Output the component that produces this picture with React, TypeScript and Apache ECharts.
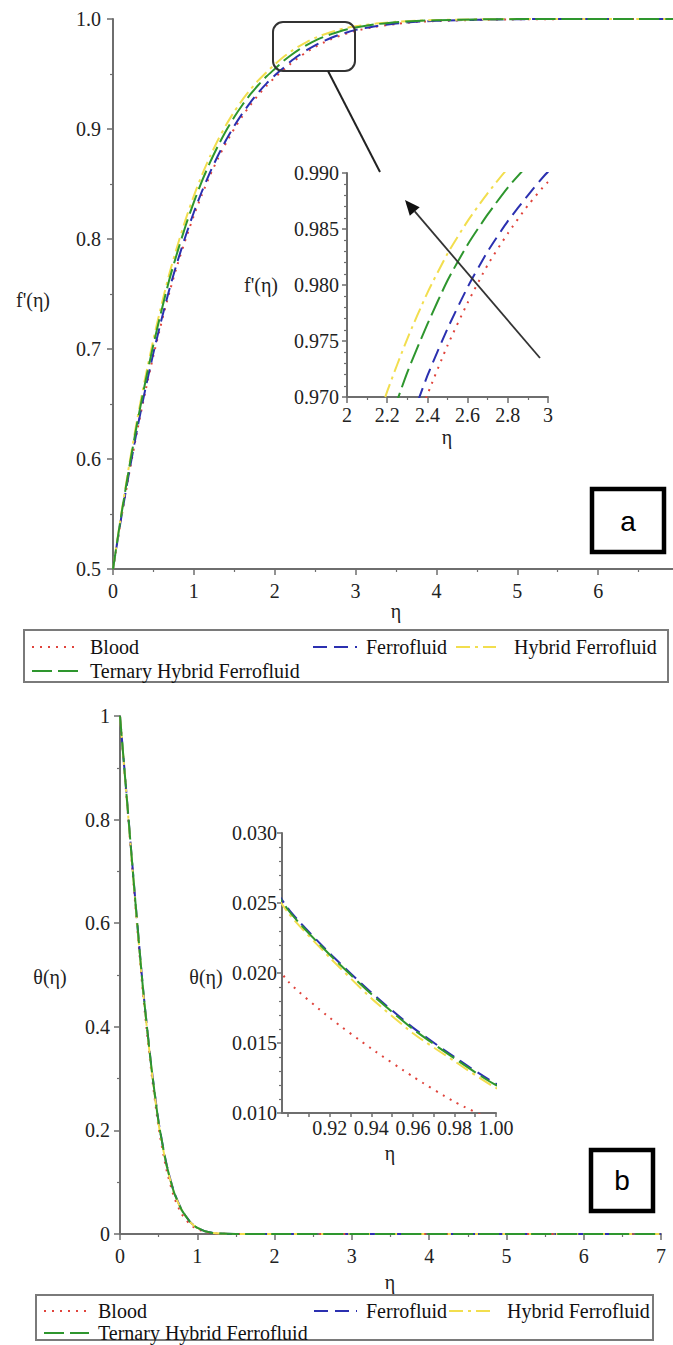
import React, { useEffect, useRef } from "react";
import * as echarts from "echarts";

// ---------- Panel (a): f'(η) ----------
const etaA = [
  0, 0.1, 0.2, 0.3, 0.4, 0.5, 0.6, 0.7, 0.8, 0.9, 1.0, 1.1, 1.2, 1.3, 1.4, 1.5, 1.6, 1.7, 1.8, 1.9, 2.0,
  2.1, 2.2, 2.3, 2.4, 2.5, 2.6, 2.7, 2.8, 2.9, 3.0, 3.25, 3.5, 3.75, 4, 4.5, 5, 5.5, 6, 6.5, 7,
];
const bloodA = [
  0.5, 0.5452, 0.5869, 0.6259, 0.6614, 0.6941, 0.7242, 0.7522, 0.7774, 0.8002, 0.8213, 0.8404, 0.8578,
  0.8734, 0.8875, 0.9003, 0.9117, 0.9219, 0.9312, 0.9393, 0.9467, 0.9531, 0.9595, 0.9652, 0.9702, 0.9746,
  0.9784, 0.9818, 0.9846, 0.9871, 0.9892, 0.993, 0.9955, 0.9973, 0.9982, 0.9992, 0.9997, 0.9999, 1, 1, 1,
];
const ferroA = [
  0.5, 0.5459, 0.5881, 0.6276, 0.6635, 0.6965, 0.7268, 0.7551, 0.7802, 0.8032, 0.8243, 0.8434, 0.8606,
  0.8761, 0.8902, 0.9028, 0.9141, 0.9243, 0.9334, 0.9415, 0.9487, 0.9551, 0.9616, 0.967, 0.9719, 0.9761,
  0.9798, 0.983, 0.9857, 0.988, 0.9901, 0.9935, 0.9959, 0.9975, 0.9983, 0.9993, 0.9998, 1, 1, 1, 1,
];
const hybridA = [
  0.5, 0.549, 0.5945, 0.6363, 0.6741, 0.7087, 0.7402, 0.7693, 0.7946, 0.8182, 0.8392, 0.8582, 0.8751,
  0.8903, 0.9038, 0.9158, 0.9265, 0.936, 0.9444, 0.9517, 0.9587, 0.965, 0.9705, 0.9752, 0.9793, 0.9828,
  0.9857, 0.9882, 0.9904, 0.9921, 0.9934, 0.9958, 0.9975, 0.9985, 0.9991, 0.9997, 1, 1, 1, 1, 1,
];
const ternaryA = [
  0.5, 0.548, 0.592, 0.633, 0.67, 0.704, 0.735, 0.764, 0.789, 0.8125, 0.8335, 0.8526, 0.8696, 0.8849,
  0.8987, 0.9109, 0.9218, 0.9316, 0.9402, 0.9479, 0.9546, 0.9614, 0.9671, 0.9722, 0.9765, 0.9804, 0.9836,
  0.9863, 0.9887, 0.9907, 0.9923, 0.9952, 0.9971, 0.9982, 0.9989, 0.9996, 0.9999, 1, 1, 1, 1,
];

// ---------- Panel (b): θ(η) ----------
const etaB = [
  0, 0.1, 0.2, 0.3, 0.4, 0.5, 0.6, 0.7, 0.8, 0.9, 0.92, 0.94, 0.96, 0.98, 1.0, 1.1, 1.2, 1.3, 1.5, 2, 3, 4,
  5, 6, 7,
];
const bloodB = [
  1, 0.815, 0.632, 0.46, 0.32, 0.205, 0.125, 0.071, 0.038, 0.0194, 0.0168, 0.0146, 0.0126, 0.0108, 0.0094,
  0.004, 0.0015, 0.0005, 0.0001, 0, 0, 0, 0, 0, 0,
];
const ferroB = [
  1, 0.821, 0.641, 0.471, 0.331, 0.216, 0.136, 0.0805, 0.0462, 0.0246, 0.0214, 0.0186, 0.0161, 0.014,
  0.0121, 0.0053, 0.0021, 0.0008, 0.0001, 0, 0, 0, 0, 0, 0,
];
const hybridB = [
  1, 0.818, 0.637, 0.467, 0.327, 0.212, 0.133, 0.079, 0.0455, 0.0243, 0.0211, 0.0182, 0.0157, 0.0137,
  0.0118, 0.0051, 0.002, 0.0008, 0.0001, 0, 0, 0, 0, 0, 0,
];
const ternaryB = [
  1, 0.82, 0.64, 0.47, 0.33, 0.215, 0.135, 0.08, 0.046, 0.0245, 0.0213, 0.0185, 0.016, 0.0139, 0.012,
  0.0052, 0.0021, 0.0008, 0.0001, 0, 0, 0, 0, 0, 0,
];

const seriesNames = ["Blood", "Ferrofluid", "Hybrid Ferrofluid", "Ternary Hybrid Ferrofluid"];
const insetBTicks = [0.9, 0.91, 0.92, 0.93, 0.94, 0.95, 0.96, 0.97, 0.98, 0.99, 1.0];
const insetBLabels = [0.92, 0.94, 0.96, 0.98, 1.0];

const SERIF = "Liberation Serif";
const SANS = "Liberation Sans";
const AXIS = "#6e6e6e";

const styles: Record<string, { color: string; type: number[] }> = {
  Blood: { color: "#e0443c", type: [2, 6] },
  Ferrofluid: { color: "#2b30b0", type: [14, 7] },
  "Hybrid Ferrofluid": { color: "#f2de4e", type: [14, 5, 3, 5] },
  "Ternary Hybrid Ferrofluid": { color: "#2e962e", type: [20, 6] },
};

function mkSeries(name: string, xs: number[], ys: number[], axisIndex: number) {
  const st = styles[name];
  return {
    type: "line",
    name,
    xAxisIndex: axisIndex,
    yAxisIndex: axisIndex,
    data: xs.map((x, i) => [x, ys[i]]),
    symbol: "none",
    showSymbol: false,
    smooth: 0.2,
    clip: true,
    silent: true,
    lineStyle: { color: st.color, width: 2, type: st.type },
    itemStyle: { color: st.color },
  };
}

function axisBase(fontSize: number, margin: number, minorSplit: number | null, tickLen = 6) {
  return {
    axisLine: { show: true, onZero: false, lineStyle: { color: AXIS, width: 2 } },
    axisTick: { show: true, inside: false, length: tickLen, lineStyle: { color: AXIS, width: 1.5 } },
    minorTick: {
      show: minorSplit !== null,
      splitNumber: minorSplit ?? 2,
      length: 3,
      lineStyle: { color: AXIS, width: 1.2 },
    },
    splitLine: { show: false },
    minorSplitLine: { show: false },
    axisLabel: { color: "#222", fontFamily: SERIF, fontSize, margin },
  };
}

const round = (v: number, d: number) => Math.round(v * Math.pow(10, d)) / Math.pow(10, d);

function legendBlock(
  names: string[],
  left: number,
  top: number,
  itemWidth: number,
  pad: number,
  orient = "horizontal",
  gap = 2
) {
  return {
    orient,
    left,
    top,
    padding: 0,
    itemGap: gap,
    itemWidth,
    itemHeight: 14,
    selectedMode: false,
    data: names,
    itemStyle: { color: "rgba(0,0,0,0)", borderColor: "rgba(0,0,0,0)", borderWidth: 0, opacity: 0 },
    textStyle: {
      fontFamily: SERIF,
      fontSize: 20,
      color: "#111",
      lineHeight: 22,
      padding: [0, 0, 0, pad],
    },
  };
}

export default function App() {
  const ref = useRef<HTMLDivElement>(null);

  useEffect(() => {
    if (!ref.current) return;
    const chart = echarts.init(ref.current, null, { renderer: "svg" });

    const series: any[] = [];
    const setsA = [bloodA, ferroA, hybridA, ternaryA];
    const setsB = [bloodB, ferroB, hybridB, ternaryB];
    seriesNames.forEach((n, i) => series.push(mkSeries(n, etaA, setsA[i], 0)));
    seriesNames.forEach((n, i) => series.push(mkSeries(n, etaA, setsA[i], 1)));
    seriesNames.forEach((n, i) => series.push(mkSeries(n, etaB, setsB[i], 2)));
    seriesNames.forEach((n, i) => series.push(mkSeries(n, etaB, setsB[i], 3)));

    const txt = (text: string, x: number, y: number, size = 20, family = SERIF, extra: any = {}) => ({
      type: "text",
      x,
      y,
      z: 10,
      style: { text, fontFamily: family, fontSize: size, fill: "#222", align: "center", verticalAlign: "middle", ...extra },
    });

    // arrow geometry in inset (a)
    const tip = [405, 200];
    const tail = [540, 358];
    const dx = tip[0] - tail[0];
    const dy = tip[1] - tail[1];
    const len = Math.hypot(dx, dy);
    const ux = dx / len;
    const uy = dy / len;
    const base = [tip[0] - ux * 15, tip[1] - uy * 15];
    const px = -uy * 6.5;
    const py = ux * 6.5;

    const option: any = {
      animation: false,
      backgroundColor: "#ffffff",
      textStyle: { fontFamily: SERIF },
      grid: [
        { left: 113, top: 19, width: 566, height: 550, containLabel: false, outerBoundsMode: "none" },
        { left: 347, top: 173, width: 201, height: 224, containLabel: false, outerBoundsMode: "none" },
        { left: 120, top: 716, width: 541, height: 518, containLabel: false, outerBoundsMode: "none" },
        { left: 282, top: 833, width: 214, height: 280, containLabel: false, outerBoundsMode: "none" },
      ],
      xAxis: [
        {
          type: "value", gridIndex: 0, min: 0, max: 7, interval: 1,
          ...axisBase(20, 12, 2),
          axisLabel: { ...axisBase(20, 12, 2).axisLabel, showMaxLabel: false },
        },
        {
          type: "value", gridIndex: 1, min: 2, max: 3, interval: 0.2,
          ...axisBase(20, 8, 2),
          axisLabel: {
            ...axisBase(20, 8, 2).axisLabel,
            formatter: (v: number) => {
              const r = round(v, 1);
              return Number.isInteger(r) ? String(r) : r.toFixed(1);
            },
          },
        },
        {
          type: "value", gridIndex: 2, min: 0, max: 7, interval: 1,
          ...axisBase(20, 12, 2),
        },
        {
          type: "value", gridIndex: 3, min: 0.897, max: 1.0,
          ...axisBase(20, 5, null, 4),
          axisTick: { show: true, length: 4, customValues: insetBTicks, lineStyle: { color: AXIS, width: 1.5 } },
          axisLabel: {
            ...axisBase(20, 5, null).axisLabel,
            customValues: insetBLabels,
            formatter: (v: number) => round(v, 2).toFixed(2),
          },
        },
      ],
      yAxis: [
        {
          type: "value", gridIndex: 0, min: 0.5, max: 1.0, interval: 0.1,
          ...axisBase(20, 12, 2),
          axisLabel: { ...axisBase(20, 12, 2).axisLabel, formatter: (v: number) => round(v, 1).toFixed(1) },
        },
        {
          type: "value", gridIndex: 1, min: 0.97, max: 0.99, interval: 0.005,
          ...axisBase(20, 8, 5, 5),
          axisLabel: { ...axisBase(20, 8, 5).axisLabel, formatter: (v: number) => round(v, 3).toFixed(3) },
        },
        {
          type: "value", gridIndex: 2, min: 0, max: 1, interval: 0.2,
          ...axisBase(20, 10, 2),
          axisLabel: {
            ...axisBase(20, 10, 2).axisLabel,
            formatter: (v: number) => {
              const r = round(v, 1);
              return Number.isInteger(r) ? String(r) : r.toFixed(1);
            },
          },
        },
        {
          type: "value", gridIndex: 3, min: 0.01, max: 0.03, interval: 0.005,
          ...axisBase(20, 5, 5, 5),
          axisLabel: { ...axisBase(20, 5, 5).axisLabel, formatter: (v: number) => round(v, 3).toFixed(3) },
        },
      ],
      legend: [
        legendBlock(["Blood", "Ternary Hybrid Ferrofluid"], 31, 636, 48, 5, "vertical", 2),
        legendBlock(["Ferrofluid"], 312, 636, 44, 4),
        legendBlock(["Hybrid Ferrofluid"], 455, 636, 40, 13),
        legendBlock(["Blood", "Ternary Hybrid Ferrofluid"], 43, 1300, 45, 4, "vertical", 0),
        legendBlock(["Ferrofluid"], 313, 1300, 43, 4),
        legendBlock(["Hybrid Ferrofluid"], 448, 1300, 46, 7),
      ],
      series,
      graphic: [
        // legend frames
        { type: "rect", z: 1, shape: { x: 24, y: 630, width: 644, height: 52 }, style: { fill: "none", stroke: "#7a7a7a", lineWidth: 2 } },
        { type: "rect", z: 1, shape: { x: 36, y: 1295, width: 617, height: 45 }, style: { fill: "none", stroke: "#7a7a7a", lineWidth: 2 } },
        // panel tags
        { type: "rect", z: 10, shape: { x: 592, y: 489, width: 72, height: 63 }, style: { fill: "#fff", stroke: "#000", lineWidth: 4.5 } },
        txt("a", 628, 521, 28, SANS, { fill: "#000" }),
        { type: "rect", z: 10, shape: { x: 591, y: 1150, width: 62, height: 61 }, style: { fill: "#fff", stroke: "#000", lineWidth: 4.5 } },
        txt("b", 622, 1180, 28, SANS, { fill: "#000" }),
        // zoom callout in panel (a)
        { type: "rect", z: 10, shape: { x: 273, y: 22, width: 82, height: 49, r: 10 }, style: { fill: "none", stroke: "#333", lineWidth: 2 } },
        { type: "line", z: 10, shape: { x1: 328, y1: 71, x2: 380, y2: 172 }, style: { stroke: "#222", lineWidth: 2 } },
        // arrow in inset (a)
        { type: "line", z: 10, shape: { x1: tail[0], y1: tail[1], x2: base[0], y2: base[1] }, style: { stroke: "#333", lineWidth: 1.8 } },
        {
          type: "polygon", z: 10,
          shape: { points: [[tip[0], tip[1]], [base[0] + px, base[1] + py], [base[0] - px, base[1] - py]] },
          style: { fill: "#111" },
        },
        // axis names
        txt("f'(η)", 33, 300),
        txt("η", 396, 611),
        txt("f'(η)", 261, 285),
        txt("η", 447, 437),
        txt("θ(η)", 50, 977),
        txt("η", 390, 1282),
        txt("θ(η)", 206, 977),
        txt("η", 390, 1153),
      ],
    };

    chart.setOption(option);
    return () => chart.dispose();
  }, []);

  return (
    <div
      ref={ref}
      style={{ position: "absolute", left: 0, top: 0, width: 673, height: 1345, background: "#fff" }}
    />
  );
}
